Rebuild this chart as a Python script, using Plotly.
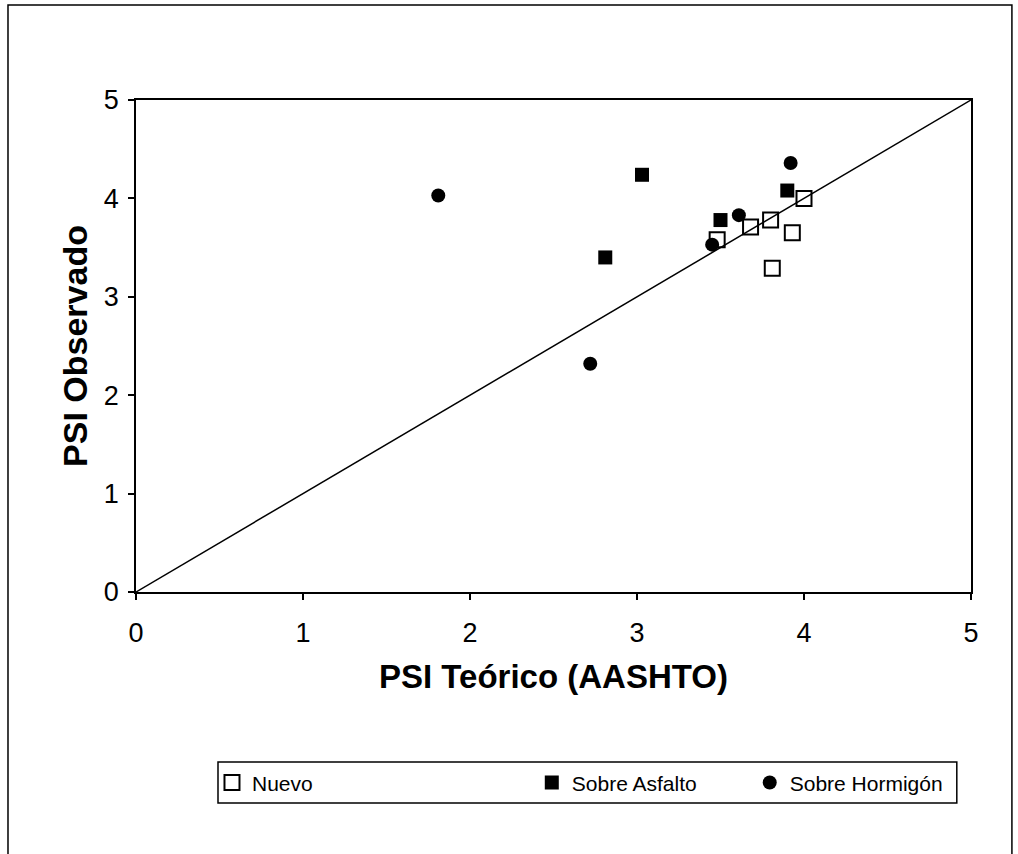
import plotly.graph_objects as go

# Data
nuevo_x = [4.00, 3.80, 3.68, 3.93, 3.48, 3.81]
nuevo_y = [4.00, 3.78, 3.71, 3.65, 3.58, 3.29]

asfalto_x = [3.03, 3.90, 3.50, 2.81]
asfalto_y = [4.24, 4.08, 3.78, 3.40]

hormigon_x = [3.92, 3.61, 3.45, 2.72, 1.81]
hormigon_y = [4.36, 3.83, 3.53, 2.32, 4.03]

line_x = [0, 5]
line_y = [0, 5]

tick_vals = [0, 1, 2, 3, 4, 5]

FONT = "Liberation Sans, Arial, sans-serif"

fig = go.Figure()

fig.add_trace(go.Scatter(x=line_x, y=line_y, mode="lines",
                         line=dict(color="black", width=1.5),
                         showlegend=False, hoverinfo="skip"))

fig.add_trace(go.Scatter(x=nuevo_x, y=nuevo_y, mode="markers", name="Nuevo",
                         marker=dict(symbol="square-open", size=15, color="black",
                                     line=dict(width=2, color="black")),
                         legend="legend"))
fig.add_trace(go.Scatter(x=asfalto_x, y=asfalto_y, mode="markers", name="Sobre Asfalto",
                         marker=dict(symbol="square", size=14, color="black"),
                         legend="legend2"))
fig.add_trace(go.Scatter(x=hormigon_x, y=hormigon_y, mode="markers", name="Sobre Hormigón",
                         marker=dict(symbol="circle", size=14, color="black"),
                         legend="legend3"))

axis_common = dict(
    range=[0, 5], tickvals=tick_vals, ticks="outside", ticklen=6, tickwidth=1.5,
    tickcolor="black", showline=True, linecolor="black", linewidth=1.5,
    mirror=True, showgrid=False, zeroline=False,
    tickfont=dict(family=FONT, size=27, color="black"),
)

fig.update_xaxes(**axis_common, ticklabelstandoff=10,
                 title=dict(text="<b>PSI Teórico (AASHTO)</b>",
                            font=dict(family=FONT, size=33, color="black"),
                            standoff=18))
fig.update_yaxes(**axis_common, ticklabelstandoff=4,
                 title=dict(text="<b>PSI Observado</b>",
                            font=dict(family=FONT, size=34, color="black"),
                            standoff=6))

leg_common = dict(orientation="h", yanchor="middle", y=-0.388, xanchor="left",
                  bgcolor="rgba(0,0,0,0)", borderwidth=0,
                  font=dict(family=FONT, size=21, color="black"))

fig.update_layout(
    width=1018, height=854,
    margin=dict(l=136, r=47, t=100, b=262),
    paper_bgcolor="white", plot_bgcolor="white",
    legend=dict(x=0.091, **leg_common),
    legend2=dict(x=0.474, **leg_common),
    legend3=dict(x=0.735, **leg_common),
    shapes=[
        dict(type="rect", xref="paper", yref="paper",
             x0=0.0982, x1=0.983, y0=-0.4289, y1=-0.3455,
             line=dict(color="black", width=1.5), fillcolor="rgba(0,0,0,0)"),
        dict(type="rect", xref="paper", yref="paper",
             x0=-0.1533, x1=1.049, y0=-0.56, y1=1.193,
             line=dict(color="black", width=1.5), fillcolor="rgba(0,0,0,0)"),
    ],
)

fig.write_html(
    "out.html",
    config={"displayModeBar": False},
    post_script="document.body.style.margin='0';document.body.style.overflow='hidden';",
)
